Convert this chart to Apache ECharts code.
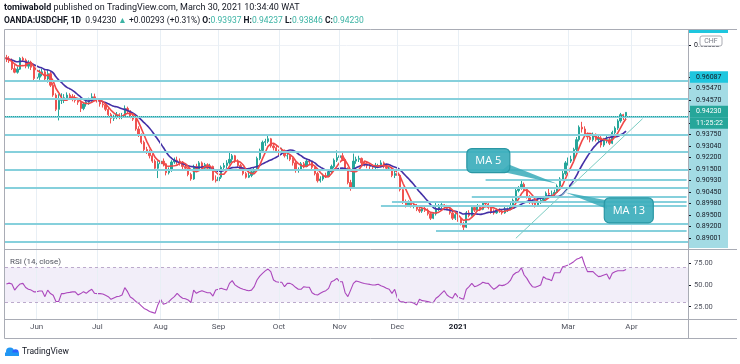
<!DOCTYPE html>
<html><head><meta charset="utf-8">
<script src="https://cdn.jsdelivr.net/npm/echarts@6/dist/echarts.min.js"></script>
<style>html,body{margin:0;padding:0;background:#fff}#c{width:740px;height:364px}</style>
</head><body><div id="c"></div>
<script>
// ---------- DATA (prices in 1/10000 units) ----------
const opens = [
9730,9722,9712,9668,9648,9665,9726,9716,9682,9704,
9676,9613,9620,9640,9650,9610,9640,9575,9520,9440,
9490,9500,9505,9520,9510,9500,9490,9480,9445,9470,
9480,9490,9510,9495,9480,9470,9465,9440,9410,9390,
9395,9410,9400,9405,9445,9430,9400,9385,9330,9295,
9255,9215,9200,9180,9150,9110,9135,9150,9135,9085,
9100,9145,9155,9150,9145,9120,9110,9075,9050,9120,
9100,9140,9110,9130,9110,9120,9045,9040,9060,9115,
9125,9140,9160,9180,9150,9125,9105,9080,9060,9070,
9090,9100,9165,9210,9255,9260,9275,9235,9225,9205,
9200,9210,9180,9180,9160,9140,9100,9100,9135,9120,
9150,9145,9115,9080,9040,9050,9070,9065,9090,9120,
9155,9170,9180,9160,9110,9030,9005,9150,9160,9165,
9140,9135,9125,9120,9115,9125,9125,9140,9120,9110,
9110,9070,9080,9070,8990,8920,8905,8915,8900,8900,
8880,8870,8885,8875,8855,8830,8855,8880,8900,8905,
8895,8885,8860,8830,8850,8825,8800,8780,8860,8845,
8890,8875,8895,8880,8915,8910,8890,8865,8860,8875,
8870,8860,8880,8880,8900,8930,8985,9000,9020,8990,
8950,8920,8915,8905,8925,8930,8940,8970,8965,8965,
8975,9010,9050,9080,9140,9150,9160,9215,9270,9340,
9330,9300,9285,9270,9300,9270,9280,9240,9270,9270,
9250,9310,9335,9375,9410,9393.7];
const highs = [
9745,9738,9725,9690,9680,9732,9735,9725,9715,9712,
9690,9650,9662,9668,9660,9665,9650,9590,9530,9525,
9530,9525,9535,9530,9525,9520,9500,9488,9480,9495,
9505,9530,9528,9500,9492,9482,9470,9448,9420,9410,
9425,9418,9420,9462,9455,9435,9410,9390,9345,9305,
9265,9230,9215,9190,9160,9150,9190,9165,9140,9115,
9155,9170,9175,9165,9150,9135,9115,9085,9130,9135,
9150,9148,9140,9138,9135,9125,9070,9075,9125,9140,
9155,9198,9190,9185,9160,9135,9115,9090,9085,9100,
9115,9175,9220,9265,9275,9295,9280,9250,9235,9215,
9225,9215,9200,9190,9170,9150,9115,9145,9145,9160,
9160,9150,9120,9090,9065,9080,9085,9100,9130,9165,
9210,9209,9195,9170,9115,9045,9192,9175,9180,9170,
9150,9145,9135,9130,9140,9135,9155,9148,9130,9120,
9115,9095,9090,9075,9000,8935,8930,8925,8920,8910,
8895,8895,8895,8885,8860,8865,8915,8910,8915,8910,
8905,8890,8870,8860,8860,8835,8810,8870,8875,8900,
8900,8910,8905,8925,8925,8918,8895,8880,8885,8885,
8880,8895,8890,8915,8940,8995,9010,9040,9030,8998,
8960,8935,8925,8935,8940,8955,8980,9000,8985,8990,
9020,9060,9095,9150,9170,9180,9225,9285,9350,9370,
9345,9310,9300,9310,9305,9300,9290,9280,9295,9285,
9320,9345,9385,9420,9415,9423.7];
const lows = [
9705,9700,9660,9642,9640,9660,9705,9670,9668,9660,
9600,9598,9605,9625,9600,9590,9565,9510,9430,9378,
9470,9475,9490,9495,9485,9478,9465,9425,9435,9455,
9465,9480,9485,9460,9455,9450,9430,9400,9361,9375,
9385,9385,9385,9400,9420,9390,9375,9320,9285,9245,
9205,9190,9165,9140,9100,9055,9125,9120,9070,9075,
9090,9135,9130,9125,9105,9095,9065,9040,9045,9090,
9095,9100,9100,9100,9095,9040,9030,9000,9050,9100,
9110,9130,9145,9140,9115,9095,9070,9052,9055,9060,
9075,9095,9155,9200,9235,9250,9225,9210,9195,9180,
9185,9170,9160,9150,9125,9085,9085,9095,9110,9115,
9130,9105,9070,9030,9030,9040,9055,9060,9080,9110,
9145,9160,9150,9100,9020,8984,9000,9135,9145,9125,
9120,9110,9105,9100,9105,9110,9115,9110,9100,9100,
9060,9055,9050,8980,8910,8890,8895,8890,8885,8870,
8860,8860,8865,8845,8820,8825,8845,8870,8885,8885,
8875,8850,8820,8820,8810,8790,8759,8775,8835,8840,
8865,8870,8870,8875,8895,8880,8855,8850,8855,8860,
8850,8855,8865,8875,8895,8925,8975,8990,8980,8940,
8910,8900,8890,8900,8910,8920,8935,8955,8950,8955,
8970,9000,9040,9070,9125,9140,9150,9205,9260,9310,
9285,9270,9255,9260,9260,9255,9226,9230,9250,9240,
9245,9300,9325,9365,9380,9384.6];
const closes = [
9722,9712,9668,9648,9665,9726,9716,9682,9704,9676,
9613,9620,9640,9650,9610,9640,9575,9520,9440,9490,
9500,9505,9520,9510,9500,9490,9480,9445,9470,9480,
9490,9510,9495,9480,9470,9465,9440,9410,9390,9395,
9410,9400,9405,9445,9430,9400,9385,9330,9295,9255,
9215,9200,9180,9150,9110,9135,9150,9135,9085,9100,
9145,9155,9150,9145,9120,9110,9075,9050,9120,9100,
9140,9110,9130,9110,9120,9045,9040,9060,9115,9125,
9140,9160,9180,9150,9125,9105,9080,9060,9070,9090,
9100,9165,9210,9255,9260,9275,9235,9225,9205,9200,
9210,9180,9180,9160,9140,9100,9100,9135,9120,9150,
9145,9115,9080,9040,9050,9070,9065,9090,9120,9155,
9170,9180,9160,9110,9030,9005,9150,9160,9165,9140,
9135,9125,9120,9115,9125,9125,9140,9120,9110,9110,
9070,9080,9070,8990,8920,8905,8915,8900,8900,8880,
8870,8885,8875,8855,8830,8855,8880,8900,8905,8895,
8885,8860,8830,8850,8825,8800,8780,8860,8845,8890,
8875,8895,8880,8915,8910,8890,8865,8860,8875,8870,
8860,8880,8880,8900,8930,8985,9000,9020,8990,8950,
8920,8915,8905,8925,8930,8940,8970,8965,8965,8975,
9010,9050,9080,9140,9150,9160,9215,9270,9340,9330,
9300,9285,9270,9300,9270,9280,9240,9270,9270,9250,
9310,9335,9375,9410,9394,9423.0];
// closes before the first visible bar (for the moving averages)
const warmupCloses = [9745,9730,9725,9715,9690,9715,9730,9745,9720,9730,9715,9720];
const rsiValues = [
51,52,51,44,48,51,51.7,47,45,44,
42,42,43,43,36.5,44,40,38,31,31,
40,40,41,41.4,42,42,38.4,40,42.2,40.3,
43,45,40.3,40,40,39.5,38,36.5,33.4,35,
36.5,37,38.4,46.8,42.2,36,34,31,29,26,
23,21.5,19.5,18.5,17.4,27,33.4,27.7,29,30.8,
34,36.5,40.3,37,34.6,34,32.7,29.6,44,40.3,
42,43.3,42,41,41,37.2,44,45,46,45,
44,51.7,54.8,50,47.9,46,44.9,44,43.3,44,
48,55.5,60,63.2,66,68.1,65.1,55.5,53.6,53,
52.9,47.9,51.7,51.7,50,47.2,45,44.9,47.9,47.2,
47.2,41,39,38.4,40.3,42,43.3,46,53.6,55,
57.4,53.6,53.6,41,36.5,44,51.7,54.4,53.5,52.5,
51.5,51,50.5,49.8,50,50.6,49,47.9,46,44.9,
40.3,44.9,34.6,30.8,30.5,29.6,30,30,28.9,27,
33.4,31.9,31.5,30.8,30,29.6,34.6,37,40.3,43.3,
38.4,36,34.6,40.3,36,34.6,33.4,44.9,48,51.7,
47.9,49,50.6,52.9,52,51.7,47.9,44.9,47,49.8,
49.1,50,51.7,55,61.3,63.9,65,69.6,61.3,57.4,
52,47.9,47.2,48.5,49.8,59.4,57,56.3,54.8,63.9,
63.9,63.9,70.8,71.5,72.7,74.5,76.5,79.2,80.5,82.2,
72.7,65.1,65.1,65.1,62,59.4,60,61.3,62.4,56.3,
63.2,65,66.2,66.2,66.2,67.7];
const firstDate = '2020-05-15';
const skippedDays = ['2020-12-25','2021-01-01'];
const futureBars = 22;
const monthTickLabels = {'2020-06':'Jun','2020-07':'Jul','2020-08':'Aug','2020-09':'Sep','2020-10':'Oct','2020-11':'Nov','2020-12':'Dec','2021-01':'2021','2021-03':'Mar','2021-04':'Apr'};
// horizontal levels: price, first date (null = whole width)
const levelPrices = [0.96087,0.95470,0.94570,0.93750,0.93040,0.92200,0.91500,0.90930,0.90450,0.89980,0.89500,0.89200,0.89001,0.88210,0.87590,0.87030];
const levelStarts = [null,null,null,null,null,null,null,null,'2021-01-18',null,'2021-01-11','2020-11-27','2020-11-23',null,'2020-12-21',null];
const lastPrice = 0.94230;
const trendLine = [['2021-02-02',0.87179],['2021-04-07',0.93875]];
const priceAxisLabels = ['0.96087','0.95470','0.94570','0.94230','11:25:22','0.93750','0.93040','0.92200','0.91500','0.90930','0.90450','0.89980','0.89500','0.89200','0.89001'];
const priceGridLevels = [0.88,0.90,0.92,0.94,0.96,0.98];
const rsiTicks = [25,50,75];
const callouts = [
  {text:'MA 5', at:['2021-01-19',0.9153], tip:['2021-02-23',0.9023]},
  {text:'MA 13', at:['2021-03-31',0.8874], tip:['2021-02-26',0.8974]}
];

// ---------- build ----------
const dates = [];
(function(){
  const d = new Date(Date.UTC(2020,4,15));
  while (dates.length < closes.length + futureBars) {
    const s = d.toISOString().slice(0,10), wd = d.getUTCDay();
    if (wd !== 0 && wd !== 6 && skippedDays.indexOf(s) < 0) dates.push(s);
    d.setUTCDate(d.getUTCDate()+1);
  }
})();
const monthIdx = {};
dates.forEach((s,i)=>{ const m=s.slice(0,7); if(!(m in monthIdx)) monthIdx[m]=i; });
const tickIdx = {};
Object.keys(monthTickLabels).forEach(m=>{ if(m in monthIdx) tickIdx[monthIdx[m]] = monthTickLabels[m]; });
const tickDates = Object.keys(tickIdx).map(i=>dates[+i]);

const candleData = closes.map((c,i)=>[opens[i]/1e4, c/1e4, lows[i]/1e4, highs[i]/1e4]);
function sma(n){
  const all = warmupCloses.concat(closes), off = warmupCloses.length;
  return closes.map((_,i)=>{ let s=0; for(let k=0;k<n;k++) s+=all[off+i-k]; return +(s/n/1e4).toFixed(5); });
}
const lastDate = dates[dates.length-1];
const levelData = levelPrices.map((p,i)=> levelStarts[i] ? [{coord:[levelStarts[i],p]},{coord:[lastDate,p]}] : {yAxis:p});

const Y0 = 0.98844, Y1 = 0.86577;
const FONT = 'Roboto, "Liberation Sans", sans-serif';
const chart = echarts.init(document.getElementById('c'));
const option = {
  animation:false,
  backgroundColor:'#fff',
  grid:[
    {left:5, top:30, width:683, height:219},
    {left:5, top:250, width:683, height:69},
    {left:688, top:71.25, width:1, height:172.5}
  ],
  xAxis:[
    {type:'category', gridIndex:0, data:dates, boundaryGap:true, axisLine:{show:false}, axisTick:{show:false}, axisLabel:{show:false}, splitLine:{show:false}},
    {type:'category', gridIndex:1, data:dates, boundaryGap:true, axisLine:{show:false}, axisTick:{show:false}, splitLine:{show:false},
      axisLabel:{show:true, margin:4, fontSize:8, color:'#50535e', fontFamily:FONT,
        interval:(i)=> (i in tickIdx),
        formatter:(v,i)=> tickIdx[i]==='2021' ? '{b|2021}' : (tickIdx[i]||''),
        rich:{b:{fontWeight:'bold', fontSize:8, color:'#131722', fontFamily:FONT}}}},
    {type:'value', gridIndex:2, show:false}
  ],
  yAxis:[
    {type:'value', gridIndex:0, min:Y1, max:Y0, position:'right', splitLine:{show:false},
      axisLine:{show:false},
      axisTick:{show:true, length:3, customValues:[0.98], lineStyle:{color:'#131722'}},
      axisLabel:{show:true, customValues:[0.98], margin:6, fontSize:7, color:'#131722', fontFamily:FONT, formatter:v=>v.toFixed(5)}},
    {type:'value', gridIndex:1, min:10.9, max:89.9, position:'right', splitLine:{show:false},
      axisLine:{show:false},
      axisTick:{show:true, length:3, customValues:rsiTicks, lineStyle:{color:'#131722'}},
      axisLabel:{show:true, customValues:rsiTicks, margin:6, fontSize:7.5, color:'#50535e', fontFamily:FONT, formatter:v=>v.toFixed(2)}},
    {type:'category', gridIndex:2, data:priceAxisLabels, inverse:true, position:'right', boundaryGap:true,
      axisLine:{show:false},
      axisTick:{show:true, alignWithLabel:true, length:3, lineStyle:{color:'#131722'}},
      axisLabel:{show:true, interval:0, margin:1, fontFamily:FONT,
        formatter:(v,i)=> i===0 ? '{c|'+v+'}' : (i===3||i===4) ? '{t|'+v+'}' : '{n|'+v+'}',
        rich:{
          n:{fontSize:7, color:'#131722', width:28, height:11.5, lineHeight:11.5, padding:[0,4,0,6], fontFamily:FONT},
          c:{fontSize:7, color:'#131722', width:28, height:11.5, lineHeight:11.5, padding:[0,4,0,6], backgroundColor:'#1ec6de', fontFamily:FONT},
          t:{fontSize:7, color:'#ffffff', width:28, height:11.5, lineHeight:11.5, padding:[0,4,0,6], backgroundColor:'#26a69a', fontFamily:FONT}
        }}}
  ],
  series:[
    {type:'line', xAxisIndex:0, yAxisIndex:0, data:[], silent:true, z:1,
      markLine:{symbol:'none', silent:true, label:{show:false}, animation:false,
        data: priceGridLevels.map(p=>({yAxis:p, lineStyle:{color:'#eef1f6', width:1, type:'solid'}}))
          .concat(tickDates.map(d=>({xAxis:d, lineStyle:{color:'#e8eff5', width:1, type:'solid'}})))}},
    {type:'line', xAxisIndex:1, yAxisIndex:1, data:[], silent:true, z:1,
      markLine:{symbol:'none', silent:true, label:{show:false}, animation:false,
        data: tickDates.map(d=>({xAxis:d, lineStyle:{color:'#e8eff5', width:1, type:'solid'}}))}},
    {type:'candlestick', name:'USDCHF', xAxisIndex:0, yAxisIndex:0, data:candleData, barWidth:1.8, z:3,
      itemStyle:{color:'#26a69a', color0:'#ef5350', borderColor:'#26a69a', borderColor0:'#ef5350', borderWidth:1}},
    {type:'line', name:'MA 13', xAxisIndex:0, yAxisIndex:0, data:sma(13), showSymbol:false, smooth:true, z:4,
      lineStyle:{color:'#4330a6', width:1.6}},
    {type:'line', name:'MA 5', xAxisIndex:0, yAxisIndex:0, data:sma(5), showSymbol:false, z:4,
      lineStyle:{color:'#f04848', width:1.6}},
    {type:'line', xAxisIndex:0, yAxisIndex:0, data:[], silent:true, z:5,
      markLine:{symbol:'none', silent:true, label:{show:false}, animation:false,
        lineStyle:{color:'#86d0dc', width:2, type:'solid'},
        data: levelData.concat([
          {yAxis:lastPrice, lineStyle:{color:'#26a69a', width:1, type:'dotted'}},
          [{coord:trendLine[0], lineStyle:{color:'#7ccdc3', width:1, type:'solid'}},{coord:trendLine[1]}]
        ])}},
    {type:'line', name:'RSI', xAxisIndex:1, yAxisIndex:1, data:rsiValues, showSymbol:false, z:4,
      lineStyle:{color:'#ab47bc', width:1.1},
      markArea:{silent:true, itemStyle:{color:'rgba(126,87,194,0.10)'}, data:[[{yAxis:30},{yAxis:70}]]},
      markLine:{symbol:'none', silent:true, label:{show:false}, animation:false,
        lineStyle:{color:'#bcaacc', width:1, type:[3,3]}, data:[{yAxis:70},{yAxis:30}]}}
  ],
  graphic:[
    {type:'rect', z:-1, shape:{x:689, y:72, width:39, height:176}, style:{fill:'#a3dbe4'}},
    {type:'rect', z:-1, shape:{x:689, y:29.5, width:39, height:3.5}, style:{fill:'#1ec6de'}},
    {type:'line', z:50, shape:{x1:4.5,y1:29.5,x2:737,y2:29.5}, style:{stroke:'#a9acb5', lineWidth:1}},
    {type:'line', z:50, shape:{x1:4.5,y1:29.5,x2:4.5,y2:338.5}, style:{stroke:'#a9acb5', lineWidth:1}},
    {type:'line', z:50, shape:{x1:4.5,y1:249.5,x2:737,y2:249.5}, style:{stroke:'#a9acb5', lineWidth:1}},
    {type:'line', z:50, shape:{x1:4.5,y1:319.5,x2:737,y2:319.5}, style:{stroke:'#a9acb5', lineWidth:1}},
    {type:'line', z:50, shape:{x1:4.5,y1:338.5,x2:737,y2:338.5}, style:{stroke:'#a9acb5', lineWidth:1}},
    {type:'line', z:50, shape:{x1:688.5,y1:29.5,x2:688.5,y2:338.5}, style:{stroke:'#a9acb5', lineWidth:1}},
    {type:'rect', z:60, shape:{x:700, y:36, width:22, height:10, r:2}, style:{fill:'#fff', stroke:'#9598a1', lineWidth:0.8}},
    {type:'text', z:61, x:711, y:41, style:{text:'CHF', fontSize:7, fontFamily:FONT, fill:'#787b86', align:'center', verticalAlign:'middle'}},
    {type:'text', z:60, x:4, y:7.5, style:{text:'{b|tomiwabold} published on TradingView.com, March 30, 2021 10:34:40 WAT', fontSize:9, fontFamily:FONT, fill:'#131722', verticalAlign:'middle',
      rich:{b:{fontWeight:'bold', fontSize:9, fontFamily:FONT, fill:'#131722'}}}},
    {type:'text', z:60, x:4, y:20.5, style:{text:'{b|OANDA:USDCHF, 1D}  0.94230 {g|▲} +0.00293 (+0.31%) {b|O:}{g|0.93937} {b|H:}{g|0.94237} {b|L:}{g|0.93846} {b|C:}{g|0.94230}', fontSize:8.5, fontFamily:FONT, fill:'#131722', verticalAlign:'middle',
      rich:{b:{fontWeight:'bold', fontSize:8.5, fontFamily:FONT, fill:'#131722'}, g:{fontSize:8.5, fontFamily:FONT, fill:'#3bb3a4'}}}},
    {type:'text', z:60, x:10, y:262, style:{text:'RSI (14, close)', fontSize:8, fontFamily:FONT, fill:'#50535e', verticalAlign:'middle'}},
    {type:'circle', z:60, shape:{cx:10, cy:351.5, r:4}, style:{fill:'#2196f3'}},
    {type:'circle', z:60, shape:{cx:15.5, cy:352.5, r:3.2}, style:{fill:'#2962ff'}},
    {type:'rect', z:60, shape:{x:5, y:352.5, width:14, height:3.5}, style:{fill:'#2196f3'}},
    {type:'text', z:60, x:22, y:351.5, style:{text:'TradingView', fontSize:8.5, fontFamily:FONT, fill:'#131722', verticalAlign:'middle'}}
  ]
};
chart.setOption(option);

// callouts anchored in data space
const extra = [];
callouts.forEach((c,k)=>{
  const p = chart.convertToPixel({xAxisIndex:0, yAxisIndex:0}, c.at);
  const t = chart.convertToPixel({xAxisIndex:0, yAxisIndex:0}, c.tip);
  const w = k===0 ? 43 : 49, h = k===0 ? 24 : 25;
  const x = p[0]-w/2, y = p[1]-h/2;
  const base = k===0 ? [[x+34,y+h-1],[x+w-1,y+h-8]] : [[x+1,y+2],[x+3,y+11]];
  extra.push({type:'polygon', z:70, shape:{points:[base[0],base[1],t]}, style:{fill:'rgba(56,170,184,0.85)'}});
  extra.push({type:'rect', z:71, shape:{x:x, y:y, width:w, height:h, r:5}, style:{fill:'rgba(60,174,188,0.92)', stroke:'#2a97a4', lineWidth:1.2}});
  extra.push({type:'text', z:72, x:x+w/2, y:y+h/2, style:{text:c.text, fontSize:11, fontFamily:'"Open Sans", sans-serif', fill:'#ffffff', align:'center', verticalAlign:'middle'}});
});
chart.setOption({graphic: option.graphic.concat(extra)});
</script>
</body></html>
